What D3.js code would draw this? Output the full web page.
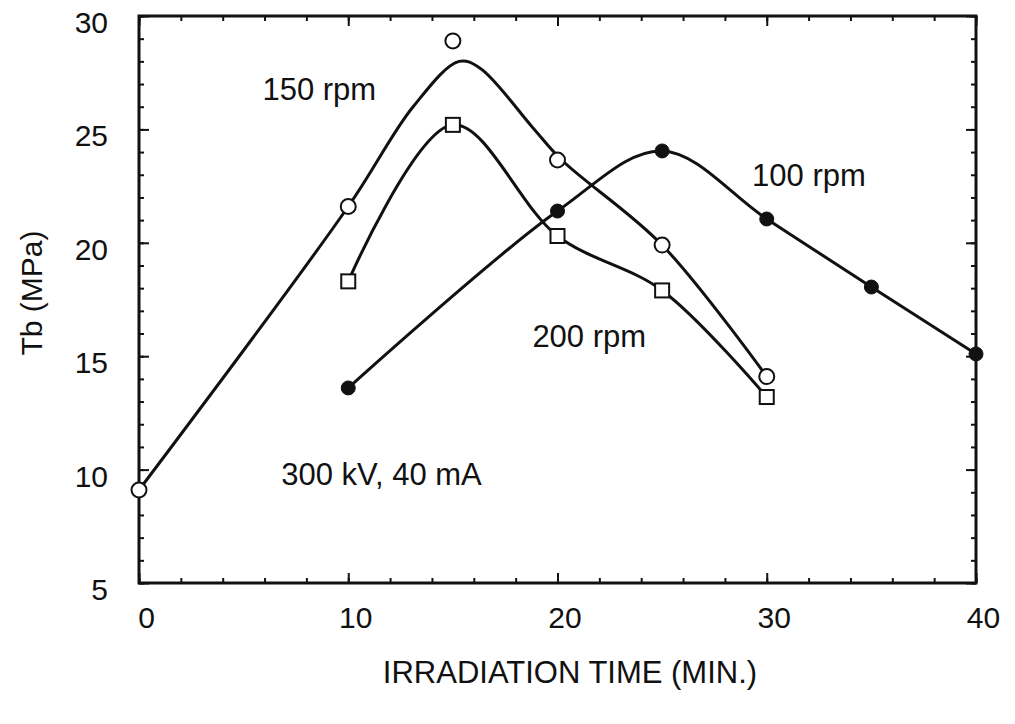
<!DOCTYPE html>
<html><head><meta charset="utf-8">
<script src="https://cdn.jsdelivr.net/npm/d3@7"></script>
<style>
body{margin:0;background:#fff}
text{font-family:"Liberation Sans",Arial,Helvetica,sans-serif;fill:#111}
</style>
</head><body>
<svg id="c" width="1015" height="724"></svg>
<script>
// ---- data ----
const xTicks = [0, 10, 20, 30, 40];
const yTicks = [5, 10, 15, 20, 25, 30];
const xTitle = "IRRADIATION TIME (MIN.)";
const yTitle = "Tb (MPa)";

const time150 = [0, 10, 15, 20, 25, 30];
const tb150   = [9.1, 21.6, 28.9, 23.65, 19.9, 14.1];
const time200 = [10, 15, 20, 25, 30];
const tb200   = [18.3, 25.2, 20.3, 17.9, 13.2];
const time100 = [10, 20, 25, 30, 35, 40];
const tb100   = [13.6, 21.4, 24.05, 21.05, 18.05, 15.1];

// smoothed fit curve drawn for 150 rpm
const fitTime150 = [0, 10, 13.1, 15.3, 16.3, 18.8, 20.2, 25, 30];
const fitTb150   = [9.1, 21.6, 26.0, 28.0, 27.7, 25.1, 23.65, 19.9, 14.1];

const annotations = ["150 rpm", "100 rpm", "200 rpm", "300 kV, 40 mA"];
const annTime = [5.9, 29.3, 18.8, 6.8];
const annTb   = [26.3, 22.5, 15.4, 9.3];

// ---- layout ----
const L = 139, R = 976, T = 16, B = 583;
const svg = d3.select("#c");
const x = d3.scaleLinear().domain([0, 40]).range([L, R]);
const y = d3.scaleLinear().domain([5, 30]).range([B, T]);
const ink = "#111";
const FONT = '"Liberation Sans",Arial,sans-serif';

function axisG(axis, tx, ty) {
  const g = svg.append("g").attr("transform", `translate(${tx},${ty})`).call(axis);
  g.select(".domain").remove();
  g.selectAll(".tick line").attr("stroke", ink).attr("stroke-width", 2);
  return g;
}
const yMinor = d3.range(5, 31, 1);
const xMinor = d3.range(0, 41, 2);
axisG(d3.axisLeft(y).tickValues(yMinor).tickSize(-5).tickFormat(""), L, 0);
axisG(d3.axisRight(y).tickValues(yMinor).tickSize(-5).tickFormat(""), R, 0);
axisG(d3.axisBottom(x).tickValues(xMinor).tickSize(-5).tickFormat(""), 0, B);
axisG(d3.axisTop(x).tickValues(xMinor).tickSize(-5).tickFormat(""), 0, T);
axisG(d3.axisRight(y).tickValues(yTicks).tickSize(-10).tickFormat(""), R, 0);
axisG(d3.axisTop(x).tickValues(xTicks).tickSize(-10).tickFormat(""), 0, T);

const gl = axisG(d3.axisLeft(y).tickValues(yTicks).tickSize(-10).tickFormat(d3.format("d")), L, 0);
gl.selectAll("text").attr("x", -31).attr("y", 6).attr("dy", "0.35em")
  .attr("font-size", 30).attr("fill", ink).style("font-family", FONT);
const gb = axisG(d3.axisBottom(x).tickValues(xTicks).tickSize(-10).tickFormat(d3.format("d")), 0, B);
gb.selectAll("text").attr("y", 24).attr("dx", 7).attr("dy", "0.71em")
  .attr("font-size", 30).attr("fill", ink).style("font-family", FONT);

// frame
svg.append("rect").attr("x", L).attr("y", T).attr("width", R - L).attr("height", B - T)
  .attr("fill", "none").attr("stroke", ink).attr("stroke-width", 3);

// titles
svg.append("text").attr("x", 570).attr("y", 683).attr("text-anchor", "middle")
  .attr("font-size", 31).text(xTitle);
svg.append("text").attr("transform", "translate(42,293) rotate(-90)").attr("text-anchor", "middle")
  .attr("font-size", 30).text(yTitle);

// curves
const line = d3.line().x(d => x(d[0])).y(d => y(d[1])).curve(d3.curveCatmullRom.alpha(0.5));
function drawLine(xs, ys) {
  svg.append("path").attr("d", line(xs.map((v, i) => [v, ys[i]])))
    .attr("fill", "none").attr("stroke", ink).attr("stroke-width", 3).attr("stroke-linejoin", "round");
}
drawLine(fitTime150, fitTb150);
drawLine(time200, tb200);
drawLine(time100, tb100);

// markers
svg.append("g").selectAll("circle").data(time150.map((v, i) => [v, tb150[i]])).join("circle")
  .attr("cx", d => x(d[0])).attr("cy", d => y(d[1])).attr("r", 7.5)
  .attr("fill", "#fff").attr("stroke", ink).attr("stroke-width", 2);
svg.append("g").selectAll("rect").data(time200.map((v, i) => [v, tb200[i]])).join("rect")
  .attr("x", d => x(d[0]) - 7).attr("y", d => y(d[1]) - 7).attr("width", 14).attr("height", 14)
  .attr("fill", "#fff").attr("stroke", ink).attr("stroke-width", 2);
svg.append("g").selectAll("circle").data(time100.map((v, i) => [v, tb100[i]])).join("circle")
  .attr("cx", d => x(d[0])).attr("cy", d => y(d[1])).attr("r", 7)
  .attr("fill", ink).attr("stroke", ink).attr("stroke-width", 1);

// annotations
svg.append("g").selectAll("text").data(annotations).join("text")
  .attr("x", (d, i) => x(annTime[i])).attr("y", (d, i) => y(annTb[i]))
  .attr("font-size", 31).text(d => d);
</script>
</body></html>
